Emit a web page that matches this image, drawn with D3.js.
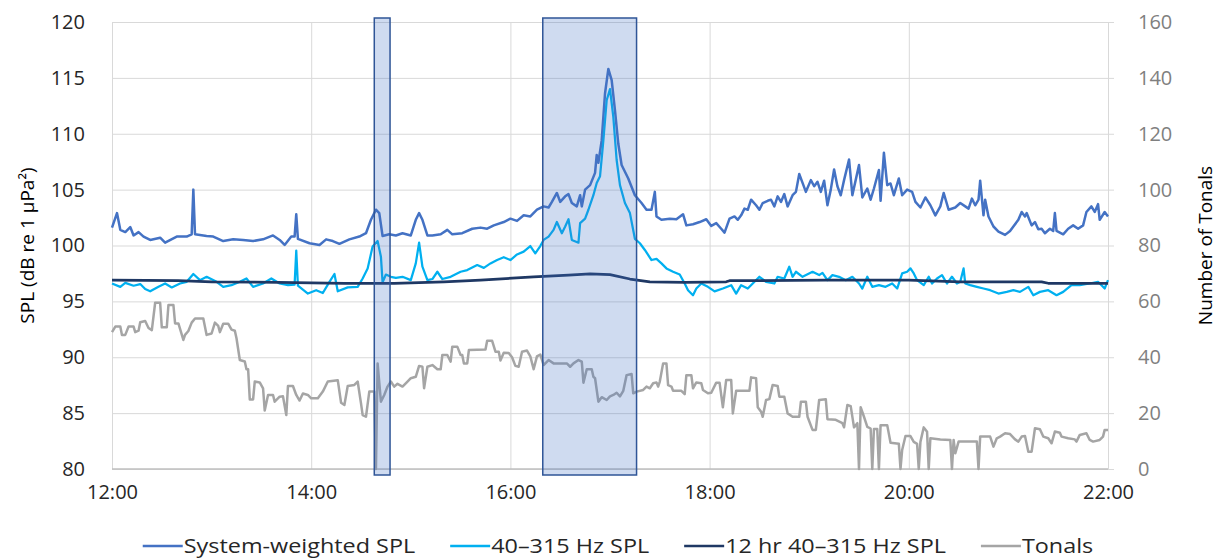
<!DOCTYPE html>
<html>
<head>
<meta charset="utf-8">
<script src="https://cdn.jsdelivr.net/npm/d3@7"></script>
<style>
    body { margin: 0; background: #fff; }
    svg text { font-family: "Open Sans", "DejaVu Sans", sans-serif; }
</style>
</head>
<body>
<svg id="chart" width="1217" height="558"></svg>
<script>
"use strict";

// Time is minutes after 12:00; [minute, value] pairs
const systemWeighted = [[0,101.6],[3,102.9],[5,101.4],[8,101.2],[11,101.65],[13,100.9],[16,101.2],[19,100.8],[23,100.5],[29,100.7],[32,100.25],[39,100.8],[45,100.8],[48,101.0],[49,105.0],[50,101.0],[57,100.85],[61,100.8],[67,100.4],[73,100.55],[79,100.5],[85,100.4],[91,100.55],[97,100.9],[101,100.5],[104,100.05],[108,100.8],[110,100.8],[111,102.8],[112,100.6],[119,100.2],[125,100.05],[129,100.55],[133,100.4],[137,100.15],[143,100.55],[149,100.8],[153,101.1],[156,102.3],[159,103.2],[161,102.9],[163,100.85],[167,101.0],[171,100.9],[175,101.1],[180,100.9],[183,102.3],[185,102.9],[187,102.3],[190,100.9],[193,100.9],[198,101.0],[202,101.4],[205,101.0],[211,101.1],[217,101.5],[222,101.6],[226,101.5],[230,101.8],[236,102.1],[240,102.4],[244,102.2],[248,102.7],[252,102.6],[256,103.2],[260,103.5],[263,103.4],[265,103.9],[268,104.7],[270,103.9],[273,104.4],[275,104.6],[277,103.8],[280,103.5],[282,104.5],[283,103.5],[285,105.0],[288,105.4],[291,106.5],[292,108.1],[293,107.4],[295,109.4],[297,113.6],[299,115.8],[301,114.8],[303,112.1],[305,109.1],[307,107.2],[311,106.0],[315,104.5],[319,103.8],[322,103.2],[325,103.2],[327,104.8],[328,102.6],[331,102.3],[336,102.4],[340,102.35],[344,102.8],[346,101.8],[350,101.9],[354,102.1],[358,102.35],[361,101.75],[364,102.0],[367,101.5],[369,101.15],[372,102.4],[375,102.6],[377,102.3],[379,102.7],[381,103.3],[383,103.2],[385,104.1],[388,103.6],[390,103.2],[392,103.8],[395,104.0],[397,104.1],[399,103.5],[401,104.4],[403,103.9],[405,104.6],[407,103.5],[410,104.5],[412,104.8],[414,106.4],[416,105.6],[418,104.8],[421,105.85],[423,105.3],[425,105.7],[427,104.8],[429,105.8],[431,103.6],[433,105.0],[435,106.8],[437,105.3],[439,104.5],[441,105.85],[444,107.7],[446,104.5],[448,105.85],[450,107.2],[452,104.3],[455,105.1],[457,104.1],[459,105.1],[462,106.75],[463,104.0],[465,108.3],[467,105.4],[469,105.55],[471,104.5],[474,106.0],[476,104.5],[479,105.0],[482,104.8],[484,103.9],[487,103.4],[490,104.3],[493,103.6],[496,102.7],[499,103.5],[501,104.7],[504,103.2],[508,103.4],[511,103.8],[514,103.5],[516,103.3],[518,104.2],[520,103.6],[522,104.1],[523,105.8],[525,102.7],[526,104.1],[528,102.6],[531,101.7],[534,101.25],[538,100.95],[541,101.3],[543,101.7],[546,102.3],[548,103.0],[550,102.6],[551,102.9],[554,101.8],[556,102.1],[558,101.45],[560,101.5],[562,101.1],[565,101.5],[567,101.3],[568,102.9],[569,101.3],[573,101.0],[576,101.5],[579,101.8],[582,101.5],[585,101.8],[587,103.0],[590,103.5],[592,103.0],[594,103.7],[595,102.3],[598,103.0],[600,102.6]];

const band40to315 = [[0,96.6],[5,96.3],[8,96.65],[13,96.4],[17,96.55],[20,96.1],[23,95.9],[28,96.3],[32,96.6],[36,96.25],[41,96.6],[45,96.75],[49,97.45],[53,96.9],[57,97.2],[63,96.75],[67,96.3],[72,96.45],[77,96.75],[81,97.05],[85,96.3],[91,96.6],[96,97.05],[101,96.6],[106,96.45],[110,96.5],[111,99.55],[112,96.4],[118,95.7],[123,96.0],[127,95.75],[131,96.75],[134,97.45],[136,95.9],[142,96.25],[148,96.3],[151,97.05],[154,97.95],[157,99.9],[160,100.4],[162,99.0],[163,96.7],[165,97.4],[168,97.2],[171,97.1],[175,97.2],[180,96.9],[183,98.4],[185,100.25],[187,98.1],[190,96.9],[193,97.0],[196,97.65],[199,97.0],[204,97.2],[210,97.65],[214,97.8],[220,98.25],[224,98.0],[228,98.4],[232,98.7],[236,98.95],[240,98.7],[244,99.2],[248,99.45],[252,99.95],[255,99.3],[258,99.95],[260,100.5],[263,100.8],[266,101.4],[268,102.1],[271,101.1],[273,101.7],[275,102.35],[277,100.5],[281,100.25],[282,102.0],[285,102.4],[287,103.2],[290,104.5],[292,105.6],[294,106.2],[296,109.4],[298,113.0],[300,114.0],[302,111.5],[304,107.65],[306,105.4],[309,103.8],[312,102.9],[315,100.6],[318,100.2],[321,99.6],[325,98.7],[328,98.8],[331,98.4],[334,97.95],[338,97.65],[342,97.4],[345,96.6],[347,96.0],[350,95.55],[352,96.15],[355,96.6],[359,96.3],[363,95.9],[368,96.15],[373,96.45],[376,95.7],[379,96.45],[383,96.15],[386,96.6],[390,97.2],[394,96.75],[399,96.6],[401,97.2],[405,97.05],[408,98.1],[410,97.2],[412,97.65],[416,97.2],[422,97.65],[426,97.35],[428,97.55],[431,96.9],[434,97.35],[438,97.2],[442,96.9],[446,97.2],[450,96.6],[452,96.15],[455,97.2],[458,96.3],[462,96.45],[466,96.3],[470,96.6],[473,96.15],[476,97.5],[479,97.65],[481,97.95],[483,97.5],[485,96.9],[489,96.45],[492,97.2],[494,96.6],[497,97.05],[500,97.35],[503,96.6],[506,97.2],[509,96.6],[511,96.75],[513,97.95],[514,96.6],[517,96.45],[521,96.3],[525,96.15],[529,96.0],[534,95.7],[539,95.85],[543,96.0],[547,95.85],[552,96.3],[555,95.55],[559,95.85],[564,96.0],[569,95.55],[573,95.85],[578,96.45],[583,96.45],[589,96.6],[594,96.75],[598,96.15],[600,96.9]];

const band12hr = [[0,96.9],[40,96.85],[60,96.75],[100,96.7],[140,96.6],[170,96.6],[200,96.75],[222,96.9],[254,97.2],[275,97.35],[288,97.45],[300,97.4],[312,97.0],[324,96.75],[345,96.7],[370,96.75],[372,96.85],[430,96.9],[480,96.9],[511,96.75],[560,96.75],[564,96.62],[600,96.62]];

const tonals = [[0,49],[2,51],[5,51],[6,48],[8,48],[10,51],[13,51],[14,49],[16,49.5],[17,52.5],[20,53],[22,50.5],[24,49.7],[26,59.5],[29,59.5],[30,50.7],[33,50.7],[34,58.7],[37,58.7],[38,52.1],[40,52.1],[43,46.2],[44,48],[46,49.4],[48,52.4],[50,53.9],[55,53.9],[57,48],[60,48.5],[62,52.4],[64,51.2],[65,49],[67,52],[70,52],[72,49.9],[74,49.5],[75,46.8],[77,39],[80,38.5],[81,35.7],[82,35.7],[83,24.9],[85,24.9],[86,31.3],[89,31],[91,28.9],[92,20.9],[94,26.5],[97,26.5],[98,24.1],[101,25.9],[103,26],[105,19.3],[106,29.7],[109,29.7],[111,26.5],[113,24.5],[115,27],[118,26.5],[120,25.3],[124,25.3],[127,27.7],[130,31.3],[136,31.8],[138,23.7],[140,22.9],[142,29.7],[146,30.1],[148,31.3],[150,23.5],[151,19.3],[153,18.7],[155,27.7],[158,27.7],[159,0],[160,37.8],[162,24.1],[164,26.5],[166,29.5],[168,31.3],[170,29.5],[172,30.5],[175,29.5],[178,31.3],[180,32.5],[183,33],[185,36.9],[187,36.6],[188,28.9],[190,36.6],[193,37.2],[196,35.7],[198,35.7],[199,40.8],[202,40.8],[204,38.4],[205,43.8],[208,43.8],[210,40.8],[211,40.8],[212,37.8],[214,37.8],[215,42.6],[225,42.8],[226,45.9],[229,45.9],[231,42],[233,42],[234,38.8],[236,41.6],[239,41.5],[241,40],[243,36.9],[245,36.6],[247,42],[250,42.4],[252,40.3],[254,35.7],[256,40.3],[258,41],[260,37.2],[263,39],[266,37.8],[274,37.8],[276,36.6],[278,37.8],[281,39],[283,38.4],[284,30.9],[286,35.7],[289,35.7],[290,33],[291,32.5],[293,24.1],[295,25.7],[298,24.7],[300,26],[302,26.5],[304,27.3],[306,26],[308,28],[310,33.6],[313,34],[314,27.1],[316,27.7],[320,28.3],[322,29.5],[324,28.9],[326,30.7],[328,31],[329,29.5],[330,31.3],[332,37.8],[334,37.8],[335,30],[337,29.5],[338,28],[343,28],[345,26.8],[346,33.6],[349,33.6],[350,28.9],[352,31],[355,30.7],[356,28.3],[359,27.1],[361,27.3],[364,30.9],[366,30.9],[368,22.1],[370,31.9],[373,31.9],[374,19.9],[376,28],[384,28],[385,32.8],[388,32.5],[389,22.1],[391,20.5],[392,18.7],[394,24.7],[396,25],[398,30.1],[401,29.7],[402,25.9],[405,25.9],[407,19.9],[410,18.7],[414,18.7],[415,24.1],[418,24.1],[419,18.7],[422,14],[424,14],[426,24.7],[430,25],[431,17.8],[436,17.6],[440,16.4],[441,14.9],[443,22.9],[445,22.5],[447,14.9],[449,16.4],[450,0],[451,22.1],[453,18.7],[455,15.1],[457,14.5],[458,0],[459,14.3],[461,14.3],[462,0],[463,15.7],[467,15.7],[469,9.4],[474,9],[475,0],[476,6.8],[478,11.8],[481,11.8],[483,9.7],[485,9],[486,0],[487,9.7],[489,14.9],[491,13.3],[492,0],[493,11],[499,10.6],[505,10.4],[506,0],[507,10.4],[508,5.6],[510,9.8],[521,9.8],[522,0],[523,11.6],[529,11.6],[531,8],[533,11],[535,11.6],[538,12.8],[541,12.5],[544,10.6],[546,9.8],[548,11.6],[550,11.8],[552,6.2],[554,6.2],[556,14.6],[559,14.2],[561,11.6],[564,11],[566,9.2],[568,13.4],[571,13],[572,11.6],[576,11],[580,10.6],[581,9.8],[583,12.2],[587,12.8],[589,10.4],[591,9.8],[595,10.4],[597,11.6],[598,14],[600,14]];

// Highlighted periods, minutes after 12:00
const boxStart = [158, 259.5];
const boxEnd = [167.5, 316];

const splTicks = [80, 85, 90, 95, 100, 105, 110, 115, 120];
const tonalTicks = [0, 20, 40, 60, 80, 100, 120, 140, 160];
const timeTicks = [0, 120, 240, 360, 480, 600];
const timeLabels = ['12:00', '14:00', '16:00', '18:00', '20:00', '22:00'];

const seriesNames = ['System-weighted SPL', '40\u2013315 Hz SPL',
    '12 hr 40\u2013315 Hz SPL', 'Tonals'];
const seriesColors = ['#4472c4', '#00b0f0', '#1f3864', '#a5a5a5'];

function drawChart() {
    let margin = {left: 112, right: 109, top: 22, bottom: 89};
    let svg = d3.select('#chart');
    let width = +svg.attr('width') - margin.left - margin.right;
    let height = +svg.attr('height') - margin.top - margin.bottom;

    let x = d3.scaleLinear().domain([0, 600]).range([0, width]);
    let y = d3.scaleLinear().domain([80, 120]).range([height, 0]);
    let y2 = d3.scaleLinear().domain([0, 160]).range([height, 0]);

    let g = svg.append('g')
        .attr('transform', 'translate(' + margin.left + ',' + margin.top + ')');

    // Gridlines first, so everything sits over them
    g.append('g')
        .call(d3.axisLeft(y).tickValues(splTicks).tickSize(-width).tickFormat(''))
        .call(function (a) { a.select('.domain').remove(); })
        .selectAll('line').attr('stroke', '#d9d9d9');
    g.append('g')
        .attr('transform', 'translate(0,' + height + ')')
        .call(d3.axisBottom(x).tickValues(timeTicks).tickSize(-height).tickFormat(''))
        .call(function (a) { a.select('.domain').remove(); })
        .selectAll('line').attr('stroke', '#d9d9d9');
    g.append('line')  // Bottom axis line is a bit darker
        .attr('x1', 0).attr('x2', width)
        .attr('y1', height).attr('y2', height)
        .attr('stroke', '#bfbfbf').attr('stroke-width', 1.5);

    // Left axis labels
    let yAxis = g.append('g')
        .call(d3.axisLeft(y).tickValues(splTicks).tickSize(0).tickPadding(27));
    yAxis.select('.domain').remove();
    yAxis.selectAll('text')
        .style('font-size', '20px').attr('fill', '#262626');

    // Right axis labels, with short outside ticks
    let y2Axis = g.append('g')
        .attr('transform', 'translate(' + width + ',0)')
        .call(d3.axisRight(y2).tickValues(tonalTicks).tickSize(6).tickPadding(24));
    y2Axis.select('.domain').remove();
    y2Axis.selectAll('line').attr('stroke', '#d9d9d9');
    y2Axis.selectAll('text')
        .style('font-size', '20px').attr('fill', '#7f7f7f');

    let xAxis = g.append('g')
        .attr('transform', 'translate(0,' + height + ')')
        .call(d3.axisBottom(x).tickValues(timeTicks).tickSize(0).tickPadding(16)
            .tickFormat(function (d, i) { return timeLabels[i]; }));
    xAxis.select('.domain').remove();
    xAxis.selectAll('text')
        .style('font-size', '20px').attr('fill', '#262626');

    // Axis titles, rotated
    svg.append('text')
        .attr('transform', 'translate(34,' + (margin.top + height / 2) + ') rotate(-90)')
        .style('text-anchor', 'middle')
        .style('font-size', '19px')
        .attr('fill', '#000')
        .text('SPL (dB re 1 \u00b5Pa\u00b2)');
    svg.append('text')
        .attr('transform', 'translate(' + (margin.left + width + 104) + ',' +
            (margin.top + height / 2) + ') rotate(-90)')
        .style('text-anchor', 'middle')
        .style('font-size', '19px')
        .attr('fill', '#000')
        .text('Number of Tonals');

    let line = d3.line()
        .x(function (d) { return x(d[0]); })
        .y(function (d) { return y(d[1]); });
    let line2 = d3.line()
        .x(function (d) { return x(d[0]); })
        .y(function (d) { return y2(d[1]); });

    let lines = [
        {data: systemWeighted, gen: line, w: 2.5},
        {data: band40to315, gen: line, w: 2.25},
        {data: band12hr, gen: line, w: 2.75},
        {data: tonals, gen: line2, w: 2.5}  // Secondary axis, drawn last
    ];
    lines.forEach(function (s, i) {
        g.append('path')
            .datum(s.data)
            .attr('fill', 'none')
            .attr('stroke', seriesColors[i])
            .attr('stroke-width', s.w)
            .attr('stroke-linejoin', 'round')
            .attr('d', s.gen);
    });

    // Translucent boxes over the lines, slightly taller than the plot
    g.selectAll('rect.box')
      .data(boxStart)
      .enter().append('rect')
        .classed('box', true)
        .attr('x', function (d) { return x(d); })
        .attr('width', function (d, i) { return x(boxEnd[i]) - x(d); })
        .attr('y', -4)
        .attr('height', height + 10)
        .attr('fill', '#4472c4')
        .attr('fill-opacity', 0.255)
        .attr('stroke', '#2f5597')
        .attr('stroke-width', 1.5);

    // Legend, centered under the plot; text is stretched a little
    // horizontally to match the wide legend of the original
    const STRETCH = 1.17;
    let legend = svg.append('g').attr('transform', 'translate(0,546)');
    let items = legend.selectAll('g.item')
      .data(seriesNames)
      .enter().append('g')
        .classed('item', true);
    items.append('line')
        .attr('x1', 0).attr('x2', 40)
        .attr('stroke', function (d, i) { return seriesColors[i]; })
        .attr('stroke-width', 2.5);
    items.append('g')
        .attr('transform', 'translate(41,0) scale(' + STRETCH + ',1)')
      .append('text')
        .attr('dy', '0.35em')
        .style('font-size', '20px')
        .attr('fill', '#262626')
        .text(function (d) { return d; });
    let widths = [];
    items.each(function () {
        widths.push(41 + STRETCH * this.querySelector('text').getComputedTextLength());
    });
    let gap = 35;
    let total = d3.sum(widths) + gap * (widths.length - 1);
    let pos = 618 - total / 2;
    items.attr('transform', function (d, i) {
        let p = pos;
        pos += widths[i] + gap;
        return 'translate(' + p + ',0)';
    });
}

drawChart();
</script>
</body>
</html>
